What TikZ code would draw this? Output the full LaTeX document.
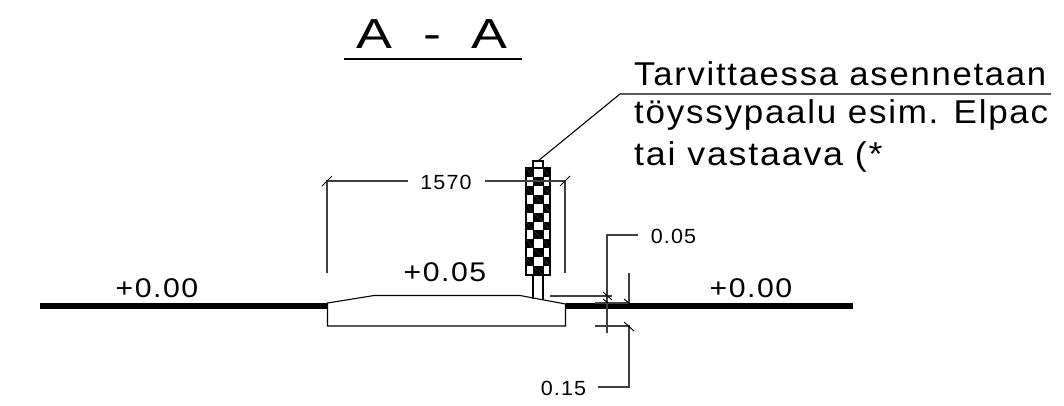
\documentclass[tikz,border=0pt]{standalone}
\usepackage{fontspec}
\setmainfont[LetterSpace=5]{Liberation Sans}
\usepackage{xcolor}
\newcommand{\wide}[2]{\scalebox{#1}[1]{#2}}
\tikzset{
    level/.style={font=\fontsize{27}{27}\selectfont, inner sep=0pt},
    dimtext/.style={font=\fontsize{20.5}{20.5}\selectfont, inner sep=0pt},
    note/.style={font=\fontsize{33}{33}\selectfont, inner sep=0pt, anchor=base west},
    road/.style={line width=5.5pt, black},
    outline/.style={line width=1.1pt, black},
    dimline/.style={line width=1.2pt, black!75},
    slash/.style={line width=1pt, black},
    hatch/.style={line width=0.3pt, black!70}
}
\begin{document}
\begin{tikzpicture}[x=1pt,y=-1pt]
\useasboundingbox (0,0) rectangle (1064,405);

% Title
\node[font=\fontsize{42}{42}\selectfont, inner sep=0pt] (title) at (432,34) {\wide{1.28}{A\hspace{10pt} - \hspace{10pt}A}};
\draw[outline] (344,59) -- (522,59);

% Note
\node[note] (note1) at (634,85) {\wide{1.05}{Tarvittaessa asennetaan}};
\node[note] (note2) at (634,123) {\wide{1.06}{töyssypaalu esim. Elpac}};
\node[note] (note3) at (634,165) {\wide{1.085}{tai vastaava (*}};
\coordinate (notestart) at (620,94);
\coordinate (noteend) at (1051,94);
\coordinate (posttop) at (538,161);
\draw[outline] (noteend) -- (notestart) -- (posttop);

% Road surface
\coordinate (roadL) at (40,306);
\coordinate (islandL) at (328,306);
\coordinate (islandR) at (566,306);
\coordinate (roadR) at (853,306);
\draw[road] (roadL) -- (islandL);
\draw[road] (islandR) -- (roadR);

% Island
\draw[outline] (327.5,303) -- (374,295.5) -- (520,295.5) -- (565.5,304) -- (565.5,326) -- (327.5,326) -- cycle;

% Post
\draw[outline] (533,299) -- (533,161) -- (543,161) -- (543,300);

% Checker pattern
\draw[outline, fill=white] (526,168) rectangle (550,275);
\foreach \r in {0,2,...,10} {
    \fill (526,168+\r*8.92) rectangle (533,168+\r*8.92+8.92);
    \fill (543,168+\r*8.92) rectangle (550,168+\r*8.92+8.92);
    \draw[hatch] (526,168+\r*8.92) -- (533,168+\r*8.92+8.92);
    \draw[hatch] (543,168+\r*8.92) -- (550,168+\r*8.92+8.92);
}
\foreach \r in {1,3,...,11} {
    \fill (533,168+\r*8.92) rectangle (543,168+\r*8.92+8.92);
    \draw[hatch] (533,168+\r*8.92) -- (543,168+\r*8.92+8.92);
}
\draw[line width=0.8pt] (533,168) -- (533,275);
\draw[line width=0.8pt] (543,168) -- (543,275);

% Levels
\node[level] (levelL) at (157,288) {\wide{1.12}{+0.00}};
\node[level] (levelM) at (445,272) {\wide{1.12}{+0.05}};
\node[level] (levelR) at (751,288) {\wide{1.12}{+0.00}};

% Dimension 1570
\node[dimtext] (width) at (446,182) {\wide{1.05}{1570}};
\coordinate (widthL) at (327,181);
\coordinate (widthR) at (565,181);
\draw[dimline] (width.west)++(-12,-1) -- (widthL) -- (327,273);
\draw[dimline] (width.east)++(13,-1) -- (widthR) -- (565,273);
\draw[slash] (322,186) -- (332,176);
\draw[slash] (560,186) -- (570,176);

% Dimension 0.05
\node[dimtext] (top) at (673.5,236) {\wide{1.05}{0.05}};
\coordinate (topcorner) at (607,235);
\draw[dimline] (638,235) -- (topcorner) -- (607,333);
\draw[dimline] (550,296) -- (612,296);
\draw[dimline] (629,273) -- (629,303);
\draw[dimline] (595,303) -- (629,303);
\draw[slash] (603,292) -- (612,300);
\draw[slash] (603,299) -- (608,303);
\draw[slash] (624,299) -- (629,303);

% Dimension 0.15
\node[dimtext] (bottom) at (563.5,388) {\wide{1.05}{0.15}};
\coordinate (bottomcorner) at (629,387);
\draw[dimline] (595,326) -- (629,326) -- (bottomcorner) -- (598,387);
\draw[slash] (624,322) -- (634,331);
\end{tikzpicture}
\end{document}
